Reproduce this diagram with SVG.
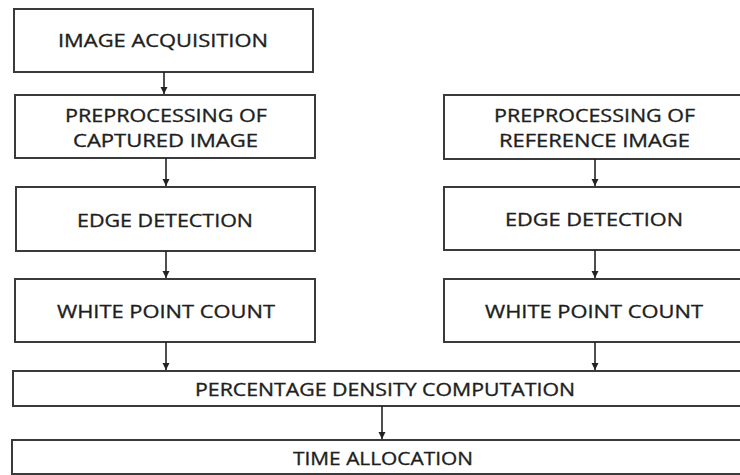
<svg xmlns="http://www.w3.org/2000/svg" width="740" height="475" viewBox="0 0 740 475">
<defs>
<marker id="ah" viewBox="0 0 10 10" refX="10" refY="5" markerWidth="7" markerHeight="8" markerUnits="userSpaceOnUse" orient="auto">
<path d="M0,0 L10,5 L0,10 z" fill="#222"/>
</marker>
<style>
.box{fill:#fff;stroke:#3a3a3a;stroke-width:2}
.lbl{font-family:"Open Sans","Liberation Sans",sans-serif;font-size:19px;font-weight:500;fill:#1e1e1e;stroke:#1e1e1e;stroke-width:0.35;text-anchor:middle}
.edge{stroke:#222;stroke-width:1.6;fill:none;marker-end:url(#ah)}
</style>
</defs>
<rect width="740" height="475" fill="#fff"/>
<g id="n1"><rect class="box" x="14" y="9" width="299" height="63"/><text class="lbl" x="163" y="47" textLength="210" lengthAdjust="spacingAndGlyphs">IMAGE ACQUISITION</text></g>
<g id="n2"><rect class="box" x="15" y="95" width="300" height="63"/><text class="lbl" x="166" y="122" textLength="202" lengthAdjust="spacingAndGlyphs">PREPROCESSING OF</text><text class="lbl" x="165.5" y="147" textLength="185" lengthAdjust="spacingAndGlyphs">CAPTURED IMAGE</text></g>
<g id="n3"><rect class="box" x="16" y="187" width="299" height="64"/><text class="lbl" x="165" y="227" textLength="176" lengthAdjust="spacingAndGlyphs">EDGE DETECTION</text></g>
<g id="n4"><rect class="box" x="15" y="279" width="300" height="63"/><text class="lbl" x="166" y="318" textLength="218" lengthAdjust="spacingAndGlyphs">WHITE POINT COUNT</text></g>
<g id="n5"><rect class="box" x="444" y="95" width="300" height="64"/><text class="lbl" x="594.5" y="122" textLength="201" lengthAdjust="spacingAndGlyphs">PREPROCESSING OF</text><text class="lbl" x="594.5" y="147" textLength="191" lengthAdjust="spacingAndGlyphs">REFERENCE IMAGE</text></g>
<g id="n6"><rect class="box" x="444" y="187" width="300" height="63"/><text class="lbl" x="594" y="226" textLength="178" lengthAdjust="spacingAndGlyphs">EDGE DETECTION</text></g>
<g id="n7"><rect class="box" x="444" y="279" width="300" height="63"/><text class="lbl" x="594" y="318" textLength="218" lengthAdjust="spacingAndGlyphs">WHITE POINT COUNT</text></g>
<g id="n8"><rect class="box" x="13" y="371" width="731" height="35"/><text class="lbl" x="385" y="396" textLength="380" lengthAdjust="spacingAndGlyphs">PERCENTAGE DENSITY COMPUTATION</text></g>
<g id="n9"><rect class="box" x="12" y="440" width="732" height="34"/><text class="lbl" x="383" y="465" textLength="180" lengthAdjust="spacingAndGlyphs">TIME ALLOCATION</text></g>
<g id="connectors">
<line class="edge" x1="164" y1="72" x2="164" y2="94"/>
<line class="edge" x1="166" y1="158" x2="166" y2="186"/>
<line class="edge" x1="166" y1="251" x2="166" y2="278"/>
<line class="edge" x1="166" y1="342" x2="166" y2="370"/>
<line class="edge" x1="595" y1="159" x2="595" y2="186"/>
<line class="edge" x1="595" y1="250" x2="595" y2="278"/>
<line class="edge" x1="595" y1="342" x2="595" y2="370"/>
<line class="edge" x1="382" y1="406" x2="382" y2="439"/>
</g>
</svg>
